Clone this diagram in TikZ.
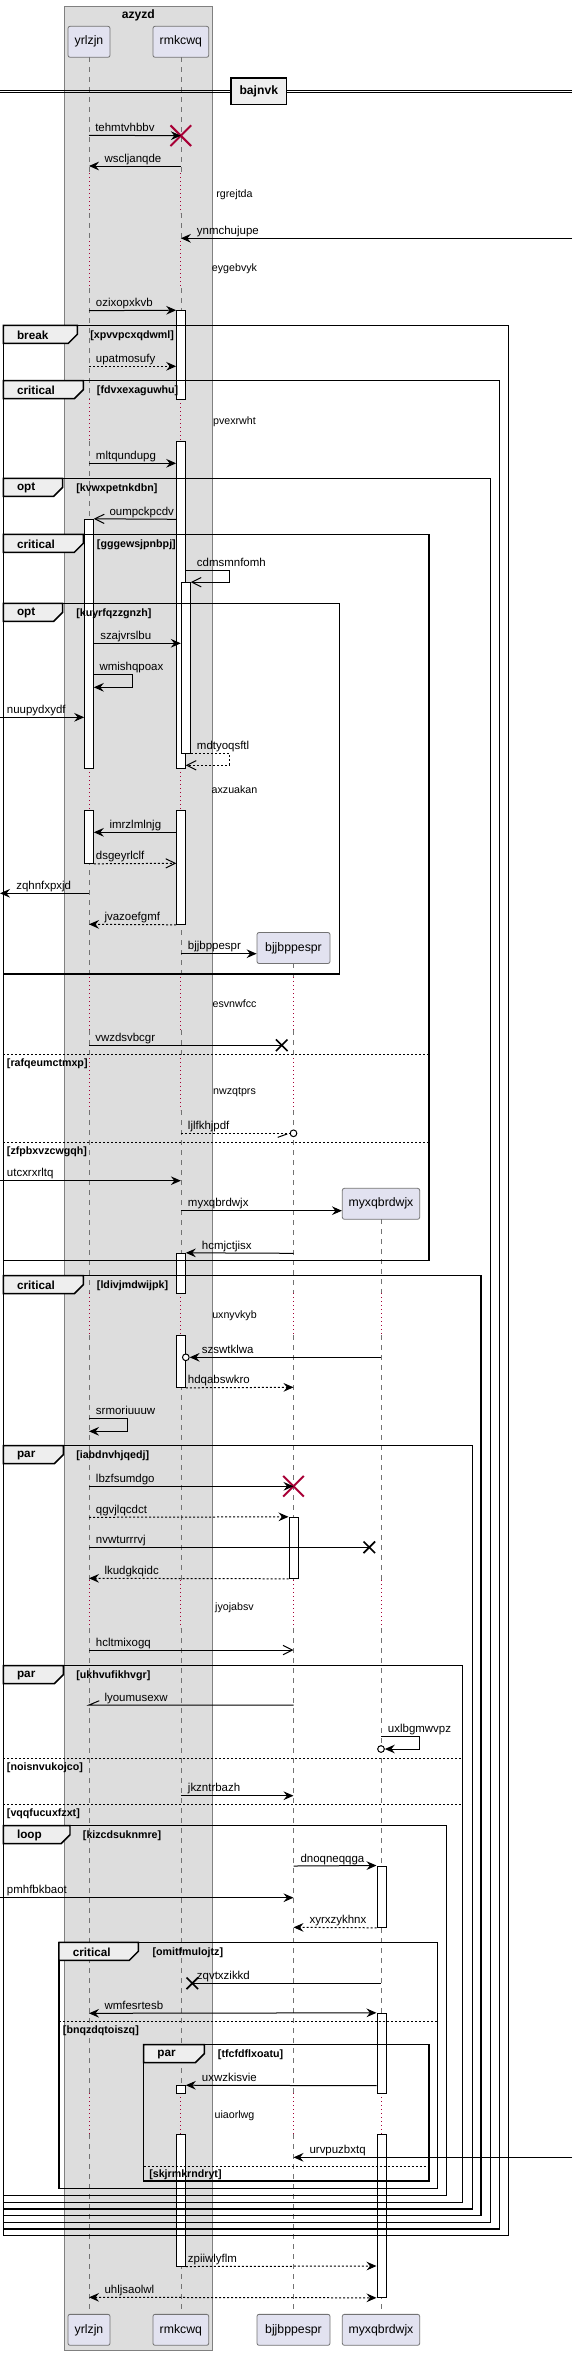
\documentclass[tikz,border=0pt]{standalone}
\usepackage{fontspec}
\setmainfont{Liberation Sans}
\usepackage{tikz}
\usetikzlibrary{
  positioning,
  arrows.meta,
  fit,
  shapes.misc
}
\definecolor{partfill}{HTML}{E2E2F0}
\definecolor{grpfill}{HTML}{DDDDDD}
\definecolor{tabfill}{HTML}{EEEEEE}
\definecolor{delayred}{HTML}{A80036}

\begin{document}
\begin{tikzpicture}[x=0.75pt, y=-0.75pt,
    font=\fontsize{8.6}{10}\selectfont,
    part/.style={draw=black!55, fill=partfill, rounded corners=1.5pt, inner sep=0pt,
      minimum height=23.2pt, line width=0.6pt, font=\fontsize{9.2}{11}\selectfont},
    life/.style={draw=black!55, line width=0.5pt, dash pattern=on 3.75pt off 3.75pt},
    delay/.style={draw=delayred, line width=0.75pt, dash pattern=on 0.75pt off 2.25pt},
    act/.style={draw=black, fill=white, line width=0.75pt, inner sep=0pt},
    msgline/.style={line width=0.75pt},
    msg/.style={msgline, -{Stealth[length=7.5pt, width=6.5pt, inset=2.6pt]}},
    msgopen/.style={msgline, -{Straight Barb[length=7pt, width=7pt]}},
    msgboth/.style={msgline, {Stealth[length=7.5pt, width=6.5pt, inset=2.6pt]}-{Stealth[length=7.5pt, width=6.5pt, inset=2.6pt]}},
    msgret/.style={dash pattern=on 1.5pt off 1.5pt},
    mlab/.style={anchor=base west, inner sep=0pt},
    dlab/.style={inner sep=0pt, font=\fontsize{8}{10}\selectfont},
    fragframe/.style={draw=black, line width=1.1pt},
    tabl/.style={anchor=west, inner sep=0pt, font=\bfseries\fontsize{8.8}{10}\selectfont},
    guardtxt/.style={anchor=west, inner sep=0pt, font=\bfseries\fontsize{8}{10}\selectfont},
    sepl/.style={line width=0.6pt, dash pattern=on 1.5pt off 1.5pt},
    destroyx/.style={cross out, draw=delayred, line width=1.5pt, minimum size=14pt, inner sep=0pt},
    lostx/.style={cross out, draw=black, line width=1.2pt, minimum size=7.5pt, inner sep=0pt},
    circ/.style={circle, draw=black, line width=0.75pt, fill=white, minimum size=5pt, inner sep=0pt},
    divbox/.style={draw=black, line width=1.1pt, fill=tabfill, minimum width=41.8pt,
      minimum height=19.7pt, inner sep=0pt, font=\bfseries\fontsize{9.1}{11}\selectfont}
  ]
  \useasboundingbox (0,0) rectangle (572,2355);
  \coordinate (lft) at (0,0);
  \coordinate (rgt) at (572,0);

  % Box
  \draw[draw=black!50, fill=grpfill, line width=0.6pt] (64.3,6) rectangle (212.3,2350);
  \node[font=\bfseries\fontsize{9.1}{11}\selectfont] (azyzd) at (138.3,15.5) {azyzd};

  % Participants
  \node[part, minimum width=31.5pt] (yrl) at (89,41.8) {yrlzjn};
  \node[part, minimum width=41.8pt] (rmk) at (180.85,41.8) {rmkcwq};
  \node[part, minimum width=54.75pt] (bjj) at (293.5,948) {bjjbppespr};
  \node[part, minimum width=58pt] (myx) at (381,1203.8) {myxqbrdwjx};
  \node[part, minimum width=31.5pt] (yrlB) at (89,2329.8) {yrlzjn};
  \node[part, minimum width=41.8pt] (rmkB) at (180.85,2329.8) {rmkcwq};
  \node[part, minimum width=54.75pt] (bjjB) at (293.5,2329.8) {bjjbppespr};
  \node[part, minimum width=58pt] (myxB) at (381,2329.8) {myxqbrdwjx};

  % Lifelines
  \foreach \ya/\yb in {57.3/173, 213/241, 288/399, 441/768, 810/977, 1030/1058,
      1110/1293, 1335/1580, 1628/2093, 2134/2314.3} {
    \draw[life] (yrl |- 0,\ya) -- (yrl |- 0,\yb);
    \draw[life] (rmk |- 0,\ya) -- (rmk |- 0,\yb);
  }
  \foreach \ya/\yb in {963.3/977, 1030/1058, 1110/1293, 1335/1580, 1628/2093, 2134/2314.3}
    \draw[life] (bjj |- 0,\ya) -- (bjj |- 0,\yb);
  \foreach \ya/\yb in {1219.3/1293, 1335/1580, 1628/2093, 2134/2314.3}
    \draw[life] (myx |- 0,\ya) -- (myx |- 0,\yb);

  % Delays
  \foreach \ya/\yb in {173/213, 241/288, 399/441, 768/810, 977/1030, 1058/1110,
      1293/1335, 1580/1628, 2093/2134} {
    \draw[delay] (yrl |- 0,\ya) -- (yrl |- 0,\yb);
    \draw[delay] (rmk |- 0,\ya) -- (rmk |- 0,\yb);
  }
  \foreach \ya/\yb in {977/1030, 1058/1110, 1293/1335, 1580/1628, 2093/2134}
    \draw[delay] (bjj |- 0,\ya) -- (bjj |- 0,\yb);
  \foreach \ya/\yb in {1293/1335, 1580/1628, 2093/2134}
    \draw[delay] (myx |- 0,\ya) -- (myx |- 0,\yb);
  \foreach \i/\y/\t in {1/195/rgrejtda, 2/268.3/eygebvyk, 3/421.7/pvexrwht,
      4/790/axzuakan, 5/1003.3/esvnwfcc, 6/1091.7/nwzqtprs, 7/1315.7/uxnyvkyb,
      8/1607.3/jyojabsv, 9/2115.7/uiaorlwg}
    \node[dlab] (dly\i) at (234.5,\y) {\t};

  % Activations
  \node[act, fit={(176.7,310.7) (185.3,399)}] (rA1) {};
  \node[act, fit={(176.7,441) (185.3,768.3)}] (rA2) {};
  \node[act, fit={(176.7,810) (185.3,924.3)}] (rA3) {};
  \node[act, fit={(181.3,582.7) (190.3,753.3)}] (rI1) {};
  \node[act, fit={(84.7,519.3) (93.3,768.3)}] (yA1) {};
  \node[act, fit={(84.7,810) (93.3,863.3)}] (yA2) {};
  \node[act, fit={(176.7,1253.3) (185.3,1293.3)}] (rA4) {};
  \node[act, fit={(176.7,1335) (185.3,1387.3)}] (rA5) {};
  \node[act, fit={(289,1517.3) (298,1578.3)}] (bA1) {};
  \node[act, fit={(377,1866) (386,1927.3)}] (mA1) {};
  \node[act, fit={(377,2013.3) (386,2093.3)}] (mA2) {};
  \node[act, fit={(377,2134) (386,2297.3)}] (mA3) {};
  \node[act, fit={(176.7,2085.7) (185.3,2093.3)}] (rA6) {};
  \node[act, fit={(176.7,2134) (185.3,2266)}] (rA7) {};

  % Fragments
  \foreach \i/\xa/\ya/\xb/\yb/\xt/\lab/\gx/\grd in {
      1/3.3/325.3/508.7/2235.7/77.3/break/90/xpvvpcxqdwml,
      2/3.3/380.7/499.7/2229/83.3/critical/96.7/fdvxexaguwhu,
      3/3.3/478.3/490.7/2222.3/62.7/opt/76/kvwxpetnkdbn,
      4/3.3/534.3/429/1260.7/83.3/critical/96.7/gggewsjpnbpj,
      5/3.3/603.3/339.7/974/62.7/opt/76/kuyrfqzzgnzh,
      6/3.3/1275.7/481/2215.7/83.3/critical/96.7/ldivjmdwijpk,
      7/3.3/1445.7/472.3/2209/63.3/par/76/iabdnvhjqedj,
      8/3.3/1665.7/462.7/2202.3/63.3/par/76/ukhvufikhvgr,
      9/3.3/1825.7/446.7/2195.7/70/loop/82.7/kizcdsuknmre,
      10/59/1942.3/437.7/2188.3/138.3/critical/152.3/omitfmulojtz,
      11/143.7/2044.7/429/2181/204.3/par/217.7/tfcfdflxoatu} {
    \draw[fragframe] (\xa,\ya) rectangle (\xb,\yb);
    \draw[fragframe, fill=tabfill] (\xa,\ya) -- (\xt,\ya) -- (\xt,\ya+9)
      -- (\xt-9,\ya+18) -- (\xa,\ya+18) -- cycle;
    \node[tabl] (tab\i) at (\xa+13.5,\ya+9.7) {\lab};
    \node[guardtxt] (grd\i) at (\gx,\ya+10.3) {[\grd]};
  }
  \foreach \i/\xa/\xb/\y/\gx/\grd in {1/3.3/429/1054.3/6.7/rafqeumctmxp,
      2/3.3/429/1142.3/6.7/zfpbxvzcwgqh, 3/3.3/462.7/1758.5/6.7/noisnvukojco,
      4/3.3/462.7/1804.3/6.7/vqqfucuxfzxt, 5/59/437.7/2021.7/62.7/bnqzdqtoiszq,
      6/143.7/429/2166/149/skjrmkrndryt} {
    \draw[sepl] (\xa,\y) -- (\xb,\y);
    \node[guardtxt] (sg\i) at (\gx,\y+9) {[\grd]};
  }

  % Divider
  \draw[line width=0.6pt] (lft |- 0,90.7) -- (rgt |- 0,90.7);
  \draw[line width=0.6pt] (lft |- 0,92.7) -- (rgt |- 0,92.7);
  \node[divbox] (bajnvk) at (258.8,91.2) {bajnvk};

  % Messages
  \node[destroyx] (dx1) at (rmk |- 0,135.7) {};
  \draw[msg] (yrl |- 0,135.3) -- (dx1.center);
  \node[mlab] (m1) at (95,131.3) {tehmtvhbbv};
  \draw[msg] (rmk |- 0,166) -- (yrl |- 0,166);
  \node[mlab] (m2) at (104.3,162) {wscljanqde};
  \draw[msg] (rgt |- 0,238.3) -- (rmk |- 0,238.3);
  \node[mlab] (m3) at (196.7,234.3) {ynmchujupe};
  \draw[msg] (yrl |- 0,310.7) -- (rA1.north west);
  \node[mlab] (m4) at (95.7,306.7) {ozixopxkvb};
  \draw[msg, msgret] (yrl |- 0,366.3) -- (rA1.west |- 0,366.3);
  \node[mlab] (m5) at (95.7,362.3) {upatmosufy};
  \draw[msg] (yrl |- 0,463.3) -- (rA2.west |- 0,463.3);
  \node[mlab] (m6) at (95.7,459.3) {mltqundupg};
  \draw[msgopen] (rA2.west |- 0,519.3) -- (yA1.north east);
  \node[mlab] (m7) at (109.3,515.3) {oumpckpcdv};
  \draw[msgopen] (rA2.east |- 0,570.7) -- ++(43.4,0) |- (rI1.north east);
  \node[mlab] (m8) at (196.7,566.7) {cdmsmnfomh};
  \draw[msg] (yA1.east |- 0,643.3) -- (rI1.west |- 0,643.3);
  \node[mlab] (m9) at (100,639.3) {szajvrslbu};
  \draw[msg] (yA1.east |- 0,674.3) -- ++(38.7,0) |- (yA1.east |- 0,687.3);
  \node[mlab] (m10) at (99.3,670.3) {wmishqpoax};
  \draw[msg] (lft |- 0,717.3) -- (yA1.west |- 0,717.3);
  \node[mlab] (m11) at (6.7,713.3) {nuupydxydf};
  \draw[msgopen, msgret] (rI1.south east) -- ++(38.4,0) |- (rA2.east |- 0,765.3);
  \node[mlab] (m12) at (196.7,749.3) {mdtyoqsftl};
  \draw[msg] (rA3.west |- 0,832.3) -- (yA2.east |- 0,832.3);
  \node[mlab] (m13) at (109.3,828.3) {imrzlmlnjg};
  \draw[msgopen, msgret] (yA2.south east) -- (rA3.west |- 0,863.3);
  \node[mlab] (m14) at (95.7,859.3) {dsgeyrlclf};
  \draw[msg] (yrl |- 0,893.3) -- (lft |- 0,893.3);
  \node[mlab] (m15) at (16,889.3) {zqhnfxpxjd};
  \draw[msg, msgret] (rA3.south west) -- (yrl |- 0,924.3);
  \node[mlab] (m16) at (104.3,920.3) {jvazoefgmf};
  \draw[msg] (rmk |- 0,953.7) -- (bjj.west |- 0,953.7);
  \node[mlab] (m17) at (187.7,949.7) {bjjbppespr};
  \node[lostx] (lx1) at (281.7,1045.3) {};
  \draw[msgline] (yrl |- 0,1045.3) -- (lx1.center);
  \node[mlab] (m18) at (95,1041.3) {vwzdsvbcgr};
  \node[circ] (c1) at (bjj |- 0,1133.3) {};
  \draw[msgline, msgret] (rmk |- 0,1133.3) -- (c1.west);
  \draw[msgline] (c1.west) ++(-2.5,0.7) -- ++(-9.4,3.3);
  \node[mlab] (m19) at (187.7,1129.3) {ljlfkhjpdf};
  \draw[msg] (lft |- 0,1180.7) -- (rmk |- 0,1180.7);
  \node[mlab] (m20) at (6.7,1176.2) {utcxrxrltq};
  \draw[msg] (rmk |- 0,1210.7) -- (myx.west |- 0,1210.7);
  \node[mlab] (m21) at (187.7,1206.7) {myxqbrdwjx};
  \draw[msg] (bjj |- 0,1253.3) -- (rA4.north east);
  \node[mlab] (m22) at (201.7,1249.3) {hcmjctjisx};
  \node[circ] (c2) at (rA5.east |- 0,1357.3) {};
  \draw[msg] (myx |- 0,1357.3) -- (c2.east);
  \node[mlab] (m23) at (201.7,1353.3) {szswtklwa};
  \draw[msg, msgret] (rA5.south east) -- (bjj |- 0,1387.3);
  \node[mlab] (m24) at (187.7,1383.3) {hdqabswkro};
  \draw[msg] (yrl |- 0,1418.3) -- ++(38.7,0) |- (yrl |- 0,1431.3);
  \node[mlab] (m25) at (95.7,1414.3) {srmoriuuuw};
  \node[destroyx] (dx2) at (bjj |- 0,1486.3) {};
  \draw[msg] (yrl |- 0,1486.3) -- (dx2.center);
  \node[mlab] (m26) at (95.7,1482.3) {lbzfsumdgo};
  \draw[msg, msgret] (yrl |- 0,1517.3) -- (bA1.north west);
  \node[mlab] (m27) at (95.7,1513.3) {qgvjlqcdct};
  \node[lostx] (lx2) at (369.3,1547.3) {};
  \draw[msgline] (yrl |- 0,1547.3) -- (lx2.center);
  \node[mlab] (m28) at (95.7,1543.3) {nvwturrrvj};
  \draw[msg, msgret] (bA1.south west) -- (yrl |- 0,1578.3);
  \node[mlab] (m29) at (104.3,1574.3) {lkudgkqidc};
  \draw[msgopen] (yrl |- 0,1650) -- (bjj |- 0,1650);
  \node[mlab] (m30) at (95.7,1646) {hcltmixogq};
  \draw[msgline] (bjj |- 0,1705) -- (yrl |- 0,1705) -- ++(10.3,-4.3);
  \node[mlab] (m31) at (104.3,1701) {lyoumusexw};
  \node[circ] (c3) at (myx |- 0,1749) {};
  \draw[msg] (myx |- 0,1736.7) -- ++(38.7,0) |- (c3.east);
  \node[mlab] (m32) at (387.7,1732.7) {uxlbgmwvpz};
  \draw[msg] (rmk |- 0,1795.7) -- (bjj |- 0,1795.7);
  \node[mlab] (m33) at (187.7,1791.7) {jkzntrbazh};
  \draw[msg] (bjj |- 0,1866) -- (mA1.north west);
  \node[mlab] (m34) at (300.3,1862) {dnoqneqqga};
  \draw[msg] (lft |- 0,1897.7) -- (bjj |- 0,1897.7);
  \node[mlab] (m35) at (6.7,1893.7) {pmhfbkbaot};
  \draw[msg, msgret] (mA1.south west) -- (bjj |- 0,1927.3);
  \node[mlab] (m36) at (309.3,1923.3) {xyrxzykhnx};
  \node[lostx] (lx3) at (192.3,1983.3) {};
  \draw[msgline] (myx |- 0,1983.3) -- (lx3.center);
  \node[mlab] (m37) at (196.7,1979.3) {zqvtxzikkd};
  \draw[msgboth] (yrl |- 0,2013.3) -- (mA2.north west);
  \node[mlab] (m38) at (104.3,2009.3) {wmfesrtesb};
  \draw[msg] (mA2.west |- 0,2085.7) -- (rA6.north east);
  \node[mlab] (m39) at (201.7,2081.7) {uxwzkisvie};
  \draw[msg] (rgt |- 0,2157.3) -- (bjj |- 0,2157.3);
  \node[mlab] (m40) at (309.3,2153.3) {urvpuzbxtq};
  \draw[msg, msgret] (rA7.south east) -- (mA3.west |- 0,2266);
  \node[mlab] (m41) at (187.7,2262) {zpiiwlyflm};
  \draw[msgboth, msgret] (yrl |- 0,2297.3) -- (mA3.south west);
  \node[mlab] (m42) at (104.3,2293.3) {uhljsaolwl};
\end{tikzpicture}
\end{document}
